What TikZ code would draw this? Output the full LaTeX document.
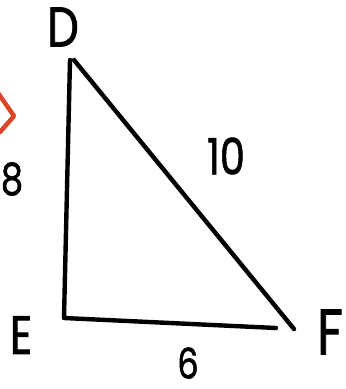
\documentclass[tikz,border=0pt]{standalone}
\usepackage{fontspec}
\setmainfont{Poppins}
\newfontfamily\hand[FakeBold=1.5]{Poppins}
\definecolor{redmark}{RGB}{220,70,40}
\begin{document}
\begin{tikzpicture}[x=1pt,y=-1pt,
  edge/.style={line width=4.4pt,line cap=round,line join=round,black},
  lbl/.style={inner sep=0pt,xscale=0.8}]
\useasboundingbox (0,0) rectangle (346,389);
\coordinate (Dt) at (70,60);
\coordinate (Dh) at (74,60);
\coordinate (E) at (64,318);
\coordinate (Fb) at (276,328);
\coordinate (Fh) at (294,329);
\draw[edge] (Dt) -- (E) -- (Fb);
\draw[edge] (Dh) -- (Fh);
\node[lbl,font=\hand\fontsize{56}{56}\selectfont] (D) at (63,27) {D};
\node[lbl,font=\hand\fontsize{54}{54}\selectfont] (Elbl) at (21,335) {E};
\node[lbl,font=\hand\fontsize{64}{64}\selectfont] (Flbl) at (330,332) {F};
\node[lbl,font=\hand\fontsize{42}{42}\selectfont] (six) at (188,363) {6};
\node[lbl,font=\hand\fontsize{50}{50}\selectfont] (ten) at (226,156) {10};
\node[lbl,font=\hand\fontsize{44}{44}\selectfont] (eight) at (12,179) {8};
\draw[line width=4.5pt,redmark,line join=round,line cap=round] (-2,93) -- (14,116) -- (0,132);
\end{tikzpicture}
\end{document}
